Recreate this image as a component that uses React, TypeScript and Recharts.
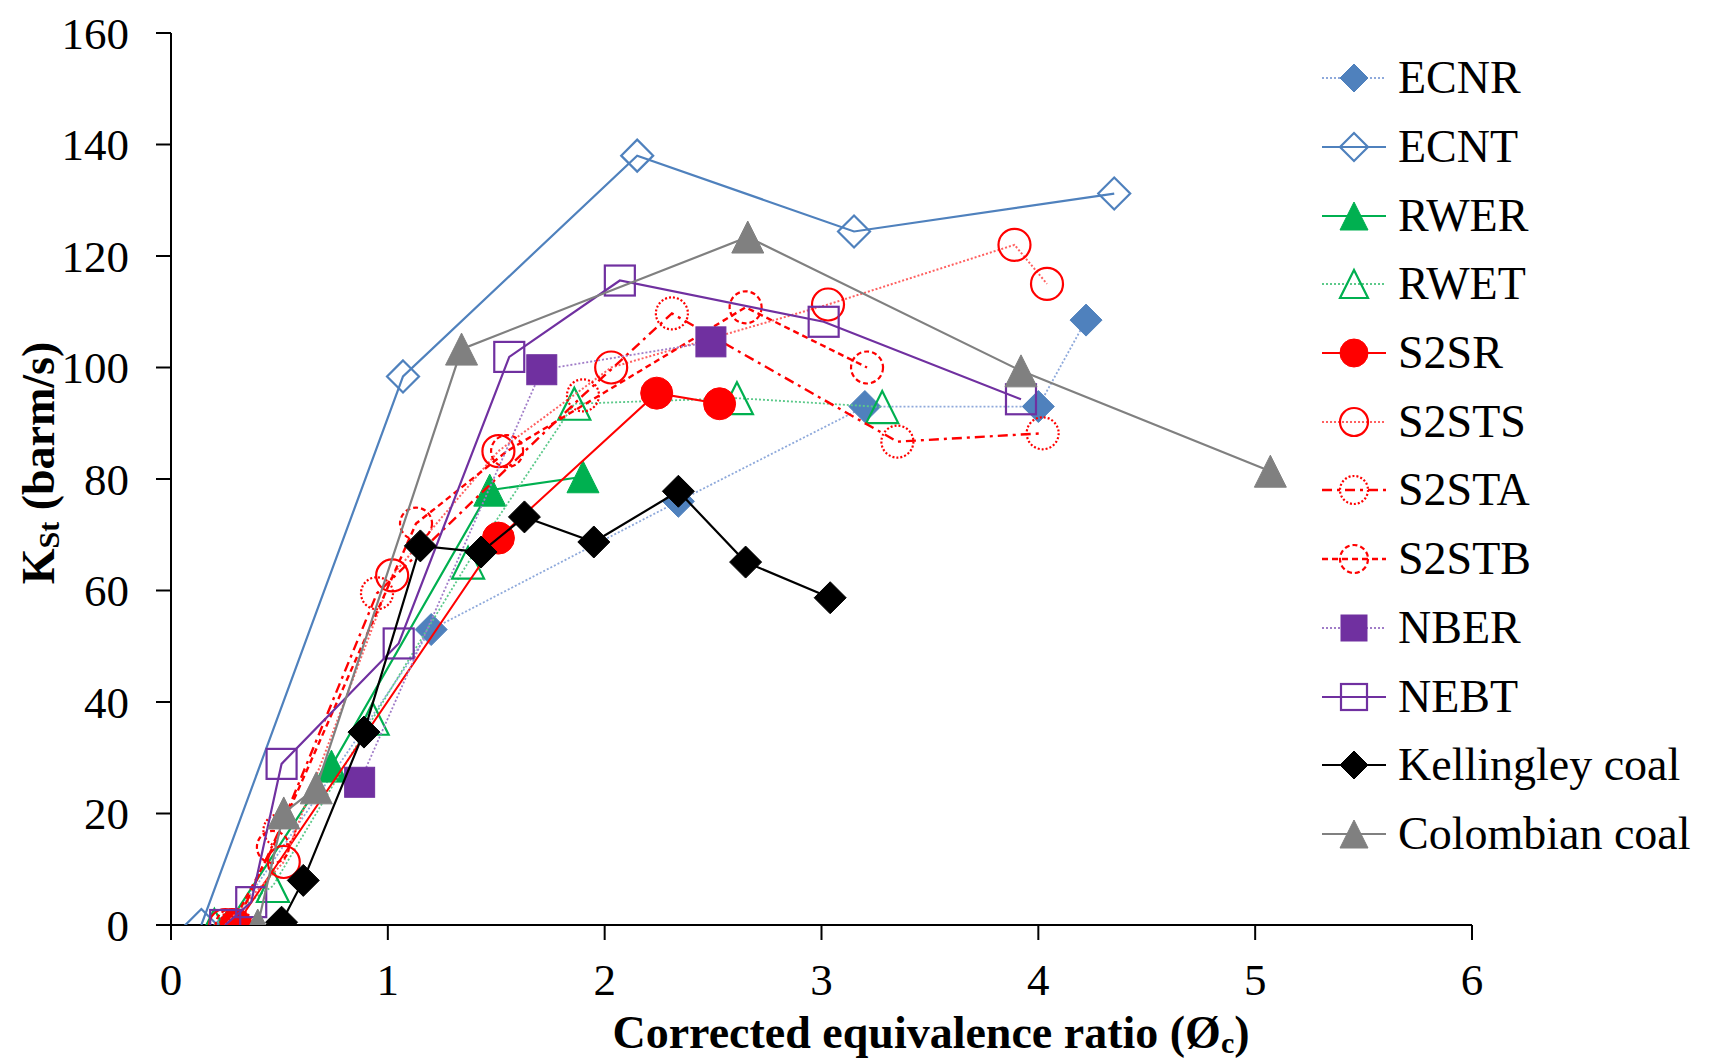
import React from 'react';
import { ScatterChart, Scatter, XAxis, YAxis, Label } from 'recharts';

// corrected equivalence ratio (x) and KSt in barm/s (y)
const ecnrX = [0.27, 1.2, 2.34, 3.2, 4.0, 4.22];
const ecnrY = [0, 53, 76, 93, 93, 108.5];

const ecntX = [0.14, 1.07, 2.15, 3.15, 4.35];
const ecntY = [0, 98.4, 138, 124.4, 131.2];

const rwerX = [0.26, 0.74, 1.47, 1.9];
const rwerY = [0, 28.5, 78, 80.4];

const rwetX = [0.2, 0.47, 0.93, 1.37, 1.86, 2.61, 3.28];
const rwetY = [0, 7, 37, 65, 93.5, 94.5, 92.9];

const s2srX = [0.3, 1.51, 2.24, 2.53];
const s2srY = [0, 69.4, 95.4, 93.5];

const s2stsX = [0.25, 0.52, 1.02, 1.51, 2.03, 3.03, 3.89, 4.04];
const s2stsY = [0, 11.3, 62.7, 85, 100, 111.3, 122, 115];

const s2staX = [0.3, 0.5, 0.95, 1.9, 2.31, 3.35, 4.02];
const s2staY = [0, 17, 59.5, 95, 109.7, 86.7, 88.2];

const s2stbX = [0.28, 0.47, 1.13, 1.55, 2.65, 3.21];
const s2stbY = [0, 14, 72, 85, 110.8, 100];

const nberX = [0.87, 1.71, 2.49];
const nberY = [25.6, 99.6, 104.6];

const nebtX = [0.25, 0.37, 0.51, 1.05, 1.56, 2.07, 3.01, 3.92];
const nebtY = [0, 4.1, 28.9, 50.5, 101.9, 115.6, 108.2, 94.3];

const kellX = [0.51, 0.61, 0.89, 1.15, 1.43, 1.63, 1.95, 2.34, 2.65, 3.04];
const kellY = [0.5, 8, 34.6, 68, 66.9, 73.2, 68.7, 77.8, 65.1, 58.7];

const colX = [0.4, 0.52, 0.67, 1.34, 2.66, 3.92, 5.07];
const colY = [0, 20.1, 24.6, 103.3, 123.4, 99.4, 81.4];

const xTicks = [0, 1, 2, 3, 4, 5, 6];
const yTicks = [0, 20, 40, 60, 80, 100, 120, 140, 160];

const FONT = '"Liberation Serif", "Times New Roman", serif';

const zip = (xs: number[], ys: number[]) => xs.map((x, i) => ({ x, y: ys[i] }));

type Kind = 'diamond' | 'triangle' | 'square' | 'circle';

interface SeriesDef {
  name: string;
  data: { x: number; y: number }[];
  kind: Kind;
  color: string;
  filled: boolean;
  line: { stroke: string; strokeWidth: number; strokeDasharray?: string };
  edgeDash?: string;
}

const BLUE = '#4F81BD';
const GREEN = '#00B050';
const RED = '#FF0000';
const PURPLE = '#7030A0';

const series: SeriesDef[] = [
  { name: 'ECNR', data: zip(ecnrX, ecnrY), kind: 'diamond', color: BLUE, filled: true, line: { stroke: '#8EA9DB', strokeWidth: 1.8, strokeDasharray: '2 2' } },
  { name: 'ECNT', data: zip(ecntX, ecntY), kind: 'diamond', color: BLUE, filled: false, line: { stroke: BLUE, strokeWidth: 2.2 } },
  { name: 'RWER', data: zip(rwerX, rwerY), kind: 'triangle', color: GREEN, filled: true, line: { stroke: GREEN, strokeWidth: 2.2 } },
  { name: 'RWET', data: zip(rwetX, rwetY), kind: 'triangle', color: GREEN, filled: false, line: { stroke: '#5CC98A', strokeWidth: 1.8, strokeDasharray: '2 2' } },
  { name: 'S2SR', data: zip(s2srX, s2srY), kind: 'circle', color: RED, filled: true, line: { stroke: RED, strokeWidth: 2 } },
  { name: 'S2STS', data: zip(s2stsX, s2stsY), kind: 'circle', color: RED, filled: false, line: { stroke: '#FF6060', strokeWidth: 2, strokeDasharray: '2 2' } },
  { name: 'S2STA', data: zip(s2staX, s2staY), kind: 'circle', color: RED, filled: false, edgeDash: '2 2', line: { stroke: RED, strokeWidth: 2.4, strokeDasharray: '10 5 3 5' } },
  { name: 'S2STB', data: zip(s2stbX, s2stbY), kind: 'circle', color: RED, filled: false, edgeDash: '5 3', line: { stroke: RED, strokeWidth: 2.4, strokeDasharray: '6 4' } },
  { name: 'NBER', data: zip(nberX, nberY), kind: 'square', color: PURPLE, filled: true, line: { stroke: '#A07CC8', strokeWidth: 1.8, strokeDasharray: '2 2' } },
  { name: 'NEBT', data: zip(nebtX, nebtY), kind: 'square', color: PURPLE, filled: false, line: { stroke: PURPLE, strokeWidth: 2.2 } },
  { name: 'Kellingley coal', data: zip(kellX, kellY), kind: 'diamond', color: '#000000', filled: true, line: { stroke: '#000000', strokeWidth: 2.2 } },
  { name: 'Colombian coal', data: zip(colX, colY), kind: 'triangle', color: '#808080', filled: true, line: { stroke: '#808080', strokeWidth: 2.2 } },
];

const Marker = ({ kind, x, y, color, filled, dash, r = 16 }: {
  kind: Kind; x: number; y: number; color: string; filled: boolean; dash?: string; r?: number;
}) => {
  const fill = filled ? color : 'none';
  const sw = filled ? 1 : 2.2;
  if (kind === 'diamond') {
    return <polygon points={`${x},${y - r} ${x + r},${y} ${x},${y + r} ${x - r},${y}`} fill={fill} stroke={color} strokeWidth={sw} />;
  }
  if (kind === 'triangle') {
    return <polygon points={`${x},${y - r} ${x + r},${y + r} ${x - r},${y + r}`} fill={fill} stroke={color} strokeWidth={sw} strokeLinejoin="miter" />;
  }
  if (kind === 'square') {
    const h = r - 1;
    return <rect x={x - h} y={y - h} width={2 * h} height={2 * h} fill={fill} stroke={color} strokeWidth={sw} />;
  }
  return <circle cx={x} cy={y} r={r} fill={fill} stroke={color} strokeWidth={sw} strokeDasharray={dash} />;
};

const shapeFor = (s: SeriesDef) => (props: any) => {
  const { cx, cy } = props;
  if (cx == null || cy == null) return <g />;
  return <Marker kind={s.kind} x={cx} y={cy} color={s.color} filled={s.filled} dash={s.edgeDash} />;
};

const YTitle = (props: any) => {
  const vb = props.viewBox;
  const cx = vb.x + 38;
  const cy = vb.y + vb.height / 2 - 16;
  return (
    <text x={cx} y={cy} transform={`rotate(-90, ${cx}, ${cy})`} textAnchor="middle" dominantBaseline="central"
      fontFamily={FONT} fontWeight="bold" fontSize={46} fill="#000">
      K<tspan fontSize={30} dy={10}>St</tspan><tspan dy={-10}> (barm/s)</tspan>
    </text>
  );
};

const XTitle = (props: any) => {
  const vb = props.viewBox;
  return (
    <text x={vb.x + 760} y={vb.y + 123} textAnchor="middle" fontFamily={FONT} fontWeight="bold" fontSize={46} fill="#000">
      Corrected equivalence ratio (Ø<tspan fontSize={30} dy={5}>c</tspan><tspan dy={-5}>)</tspan>
    </text>
  );
};

const LegendBox = () => (
  <div style={{ position: 'absolute', left: 1320, top: 44, fontFamily: FONT, fontSize: 46, color: '#000' }}>
    {series.map(s => (
      <div key={s.name} style={{ display: 'flex', alignItems: 'center', height: 68.7, whiteSpace: 'nowrap' }}>
        <svg width={68} height={40} style={{ flex: 'none' }}>
          <line x1={2} y1={20} x2={66} y2={20} {...s.line} />
          <Marker kind={s.kind} x={34} y={20} color={s.color} filled={s.filled} dash={s.edgeDash} r={14} />
        </svg>
        <span style={{ marginLeft: 10, lineHeight: 1 }}>{s.name}</span>
      </div>
    ))}
  </div>
);

export default function App() {
  return (
    <div style={{ position: 'absolute', left: 0, top: 0, width: 1710, height: 1063, background: '#fff' }}>
      <ScatterChart width={1710} height={1063} margin={{ top: 33, right: 238, bottom: 0, left: 0 }}>
        <XAxis type="number" dataKey="x" domain={[0, 6]} ticks={xTicks} interval={0} height={138}
          tickSize={15} tickMargin={23} axisLine={{ stroke: '#000', strokeWidth: 2 }} tickLine={{ stroke: '#000', strokeWidth: 2 }}
          tick={{ fontSize: 45, fill: '#000', fontFamily: FONT }} allowDataOverflow>
          <Label content={XTitle} />
        </XAxis>
        <YAxis type="number" dataKey="y" domain={[0, 160]} ticks={yTicks} interval={0} width={171}
          tickSize={15} tickMargin={27} axisLine={{ stroke: '#000', strokeWidth: 2 }} tickLine={{ stroke: '#000', strokeWidth: 2 }}
          tick={{ fontSize: 45, fill: '#000', fontFamily: FONT }} allowDataOverflow>
          <Label content={YTitle} />
        </YAxis>
        {series.map(s => (
          <Scatter key={s.name} name={s.name} data={s.data} line={s.line} lineType="joint"
            shape={shapeFor(s)} fill={s.color} isAnimationActive={false} />
        ))}
      </ScatterChart>
      <LegendBox />
    </div>
  );
}
